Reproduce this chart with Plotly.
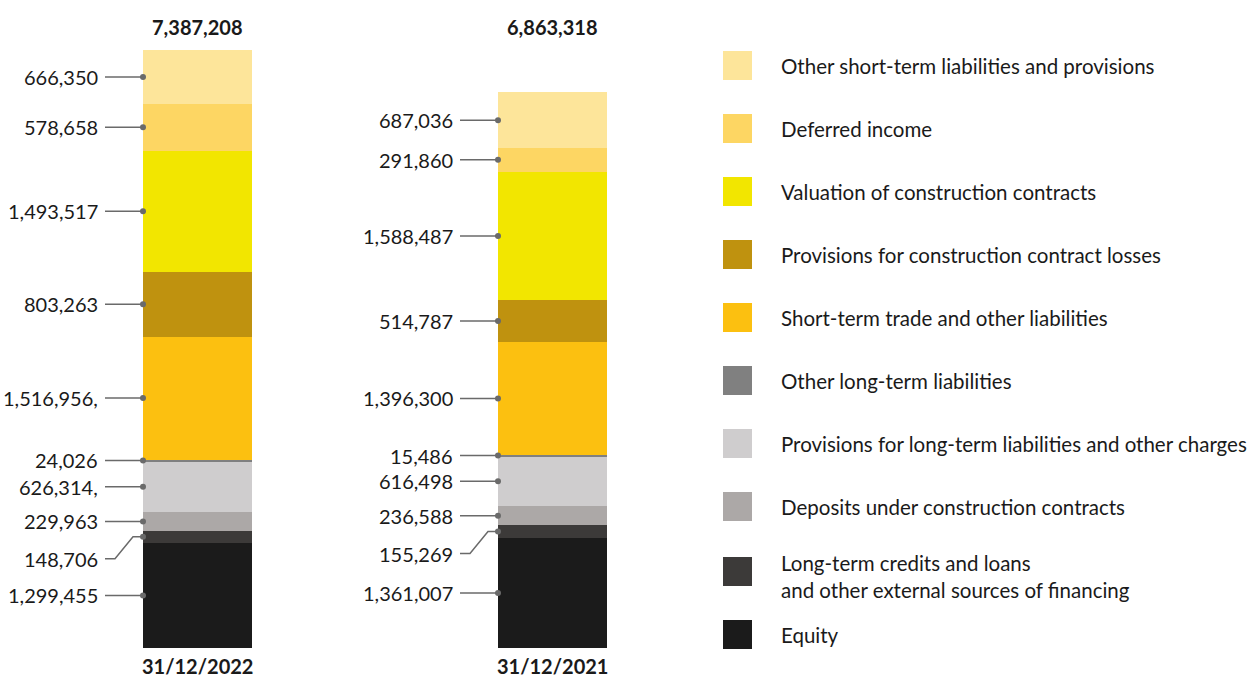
import plotly.graph_objects as go

# ---- data -------------------------------------------------------------
periods = ["31/12/2022", "31/12/2021"]
totals = ["7,387,208", "6,863,318"]

# stack order: bottom -> top
categories = [
    "Equity",
    "Long-term credits and loans<br>and other external sources of financing",
    "Deposits under construction contracts",
    "Provisions for long-term liabilities and other charges",
    "Other long-term liabilities",
    "Short-term trade and other liabilities",
    "Provisions for construction contract losses",
    "Valuation of construction contracts",
    "Deferred income",
    "Other short-term liabilities and provisions",
]
values_2022 = [1299455, 148706, 229963, 626314, 24026, 1516956, 803263, 1493517, 578658, 666350]
values_2021 = [1361007, 155269, 236588, 616498, 15486, 1396300, 514787, 1588487, 291860, 687036]
labels_2022 = ["1,299,455", "148,706", "229,963", "626,314,", "24,026", "1,516,956,",
               "803,263", "1,493,517", "578,658", "666,350"]
labels_2021 = ["1,361,007", "155,269", "236,588", "616,498", "15,486", "1,396,300",
               "514,787", "1,588,487", "291,860", "687,036"]

colors = ["#1b1b1b", "#3c3a39", "#aca8a7", "#cfcdce", "#808080",
          "#fcc010", "#bf920f", "#f2e600", "#fdd663", "#fde59a"]

# ---- geometry ---------------------------------------------------------
W, H = 1260, 677
PX_PER_UNIT = 598 / 7387208          # vertical scale (pixels per value unit)
BASE_PX = 648                        # pixel row of value 0
X_STEP = 355                         # pixels between bar centres
X0_PX = 197.5                        # pixel column of the first bar centre
BAR_W = 109 / X_STEP
HALF = BAR_W / 2
LEAD = 38 / X_STEP                   # leader line length
GAP = 5 / X_STEP                     # gap between label and leader
FONT = "Lato"
LINE_COL = "#6a6a6a"

y_lo = -(H - BASE_PX) / PX_PER_UNIT
y_hi = BASE_PX / PX_PER_UNIT
x_lo = -X0_PX / X_STEP
x_hi = (W - X0_PX) / X_STEP

fig = go.Figure()

series = [values_2022, values_2021]
labels = [labels_2022, labels_2021]

for k, cat in enumerate(categories):
    fig.add_trace(go.Bar(
        x=[0, 1], y=[series[0][k], series[1][k]], width=BAR_W,
        marker=dict(color=colors[k], line=dict(width=0)),
        name=cat, showlegend=False, hoverinfo="skip",
    ))

annotations = []
for i, (vals, labs) in enumerate(zip(series, labels)):
    edge = i - HALF
    start = edge - LEAD
    cum = 0
    for k, v in enumerate(vals):
        mid = cum + v / 2
        cum += v
        if k == 1:
            # small segment: label pushed down with an elbow leader
            ty = mid - 22 / PX_PER_UNIT
            xs = [start, start + 10 / X_STEP, start + 28 / X_STEP, edge]
            ys = [ty, ty, mid, mid]
        else:
            ty = mid
            xs = [start, edge]
            ys = [mid, mid]
        fig.add_trace(go.Scatter(
            x=xs, y=ys, mode="lines", line=dict(color=LINE_COL, width=1.5),
            showlegend=False, hoverinfo="skip",
        ))
        fig.add_trace(go.Scatter(
            x=[edge], y=[mid], mode="markers",
            marker=dict(color=LINE_COL, size=6),
            showlegend=False, hoverinfo="skip", cliponaxis=False,
        ))
        annotations.append(dict(
            x=start - GAP, y=ty, xref="x", yref="y", text=labs[k],
            showarrow=False, xanchor="right", yanchor="middle",
            font=dict(family=FONT, size=20, color="#1a1a1a"),
        ))
    # total above and date below
    annotations.append(dict(
        x=i, y=1 - 27 / H, xref="x", yref="paper", text=f"<b>{totals[i]}</b>",
        showarrow=False, xanchor="center", yanchor="middle",
        font=dict(family=FONT, size=20, color="#1a1a1a"),
    ))
    annotations.append(dict(
        x=i, y=1 - 666 / H, xref="x", yref="paper", text=f"<b>{periods[i]}</b>",
        showarrow=False, xanchor="center", yanchor="middle",
        font=dict(family=FONT, size=20, color="#1a1a1a"),
    ))

# ---- legend (top -> bottom) --------------------------------------------
legend_rows = [65.5, 128.5, 191.5, 254.5, 317.5, 380.5, 443.5, 506.5, 571.5, 634.5]
shapes = []
for j, k in enumerate(reversed(range(len(categories)))):
    cy = legend_rows[j]
    shapes.append(dict(
        type="rect", xref="paper", yref="paper",
        x0=723 / W, x1=752 / W, y0=1 - (cy - 14.5) / H, y1=1 - (cy + 14.5) / H,
        fillcolor=colors[k], line=dict(width=0),
    ))
    ty = cy + (5 if "<br>" in categories[k] else 0)
    annotations.append(dict(
        x=779 / W, y=1 - ty / H, xref="paper", yref="paper",
        text=categories[k], showarrow=False, xanchor="left", yanchor="middle",
        align="left", font=dict(family=FONT, size=20.5, color="#1a1a1a"),
    ))

fig.update_layout(
    width=W, height=H, barmode="stack",
    margin=dict(l=0, r=0, t=0, b=0),
    paper_bgcolor="white", plot_bgcolor="white",
    xaxis=dict(range=[x_lo, x_hi], visible=False, fixedrange=True),
    yaxis=dict(range=[y_lo, y_hi], visible=False, fixedrange=True),
    bargap=0, annotations=annotations, shapes=shapes,
)

fig.write_html("out.html")
